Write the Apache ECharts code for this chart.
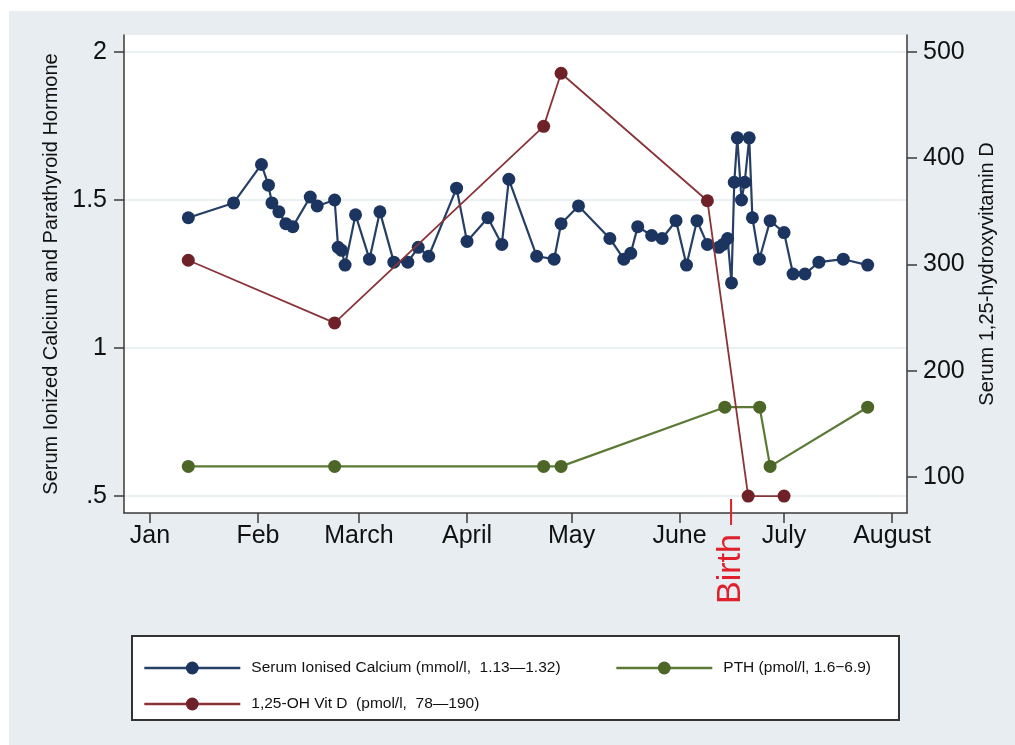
<!DOCTYPE html>
<html><head><meta charset="utf-8">
<script src="https://cdn.jsdelivr.net/npm/echarts@6/dist/echarts.min.js"></script>
<style>
html,body{margin:0;padding:0;background:#fff;}
#bg{position:absolute;left:9px;top:11px;width:1006px;height:734px;background:#e7edf0;}
#c{position:absolute;left:0;top:0;width:1015px;height:745px;}
</style>
</head><body><div id="bg"></div><div id="c"></div>
<script>
const calciumDates = ['2012-01-12','2012-01-25','2012-02-02','2012-02-04','2012-02-05','2012-02-07','2012-02-09','2012-02-11','2012-02-16','2012-02-18','2012-02-23','2012-02-24','2012-02-25','2012-02-26','2012-02-29','2012-03-04','2012-03-07','2012-03-11','2012-03-15','2012-03-18','2012-03-21','2012-03-29','2012-04-01','2012-04-07','2012-04-11','2012-04-13','2012-04-21','2012-04-26','2012-04-28','2012-05-03','2012-05-12','2012-05-16','2012-05-18','2012-05-20','2012-05-24','2012-05-27','2012-05-31','2012-06-03','2012-06-06','2012-06-09','2012-06-12 07:00','2012-06-13 12:00','2012-06-14 19:00','2012-06-15 22:00','2012-06-16 17:00','2012-06-17 14:00','2012-06-18 19:00','2012-06-19 17:00','2012-06-21 00:00','2012-06-21 22:00','2012-06-23 22:00','2012-06-27','2012-07-01','2012-07-03 14:00','2012-07-07','2012-07-11','2012-07-18','2012-07-25'];
const calciumValues = [1.44,1.49,1.62,1.55,1.49,1.46,1.42,1.41,1.51,1.48,1.50,1.34,1.33,1.28,1.45,1.30,1.46,1.29,1.29,1.34,1.31,1.54,1.36,1.44,1.35,1.57,1.31,1.30,1.42,1.48,1.37,1.30,1.32,1.41,1.38,1.37,1.43,1.28,1.43,1.35,1.34,1.35,1.37,1.22,1.56,1.71,1.50,1.56,1.71,1.44,1.30,1.43,1.39,1.25,1.25,1.29,1.30,1.28];
const pthDates = ['2012-01-12','2012-02-23','2012-04-23','2012-04-28','2012-06-14','2012-06-24','2012-06-27','2012-07-25'];
const pthValues = [0.6,0.6,0.6,0.6,0.8,0.8,0.6,0.8];
const vitDDates = ['2012-01-12','2012-02-23','2012-04-23','2012-04-28','2012-06-09','2012-06-20 17:00','2012-07-01'];
const vitDValues = [304,245,430,480,360,82,82];
const monthTicks = ['2012-01-01','2012-02-01','2012-03-01','2012-04-01','2012-05-01','2012-06-01','2012-07-01','2012-08-01'];
const monthLabels = ['Jan','Feb','March','April','May','June','July','August'];
const leftTicks = [0.5,1,1.5,2];
const leftTickLabels = ['.5','1','1.5','2'];
const rightTicks = [100,200,300,400,500];
const seriesNames = ['Serum Ionised Calcium (mmol/l,  1.13\u20141.32)','PTH (pmol/l, 1.6\u22126.9)','1,25-OH Vit D  (pmol/l,  78\u2014190)'];
const birthDate = '2012-06-15 19:00';
const birthLabel = 'Birth';
const leftTitle = 'Serum Ionized Calcium and Parathyroid Hormone';
const rightTitle = 'Serum 1,25-hydroxyvitamin D';

function ts(s){
  const parts = s.split(' ');
  const d = parts[0].split('-').map(Number);
  let h = 0, mi = 0;
  if (parts[1]) { const t = parts[1].split(':').map(Number); h = t[0]; mi = t[1]; }
  return new Date(d[0], d[1]-1, d[2], h, mi).getTime();
}
function nearestLabel(v, ticks, labels){
  let best=0, bd=Infinity;
  ticks.forEach((t,i)=>{const dd=Math.abs(t-v); if(dd<bd){bd=dd;best=i;}});
  return labels[best];
}
const FONT = "'Liberation Sans', Arial, Helvetica, sans-serif";
const tickTimes = monthTicks.map(ts);
const xMin = ts('2011-12-24 13:00');
const xMax = ts('2012-08-05 07:00');
const yLeftMin = 0.4426, yLeftMax = 2.0574;
const yRightMin = 66.1, yRightMax = 516;

const chart = echarts.init(document.getElementById('c'), null, {renderer:'canvas'});
const axisLine = {show:true, lineStyle:{color:'#3a3a3a', width:1.5}};
const legendText = {fontSize:15.5, color:'#111', fontFamily:FONT, padding:[0,0,0,6]};
const option = {
  animation:false,
  backgroundColor:'transparent',
  textStyle:{fontFamily:FONT},
  grid:{left:124, right:108, top:35, bottom:232, show:true, backgroundColor:'#ffffff', borderWidth:0},
  xAxis:{
    type:'value', min:xMin, max:xMax, scale:true,
    axisLine:axisLine,
    axisTick:{show:true, length:10, lineStyle:{color:'#3a3a3a', width:1.5}, customValues:tickTimes},
    axisLabel:{customValues:tickTimes, fontSize:25, color:'#111', margin:11, fontFamily:FONT,
      formatter:function(v){ return nearestLabel(v, tickTimes, monthLabels); }},
    splitLine:{show:false}
  },
  yAxis:[{
    type:'value', position:'left', min:yLeftMin, max:yLeftMax,
    name:leftTitle, nameLocation:'middle', nameRotate:90, nameGap:60,
    nameTextStyle:{fontSize:20, color:'#111', fontFamily:FONT},
    axisLine:axisLine,
    axisTick:{show:true, length:10, lineStyle:{color:'#3a3a3a', width:1.5}, customValues:leftTicks},
    axisLabel:{customValues:leftTicks, fontSize:25, color:'#111', margin:17, fontFamily:FONT,
      formatter:function(v){ return nearestLabel(v, leftTicks, leftTickLabels); }},
    splitLine:{show:true, lineStyle:{color:'#e3ebee', width:1.5}}
  },{
    type:'value', position:'right', min:yRightMin, max:yRightMax,
    name:rightTitle, nameLocation:'middle', nameRotate:90, nameGap:70,
    nameTextStyle:{fontSize:20, color:'#111', fontFamily:FONT},
    axisLine:axisLine,
    axisTick:{show:true, length:10, lineStyle:{color:'#3a3a3a', width:1.5}, customValues:rightTicks},
    axisLabel:{customValues:rightTicks, fontSize:25, color:'#111', margin:16, fontFamily:FONT},
    splitLine:{show:false}
  }],
  legend:[
    {data:[seriesNames[0]], left:138, top:655, itemWidth:96, itemHeight:16, selectedMode:false, lineStyle:{width:2.6}, textStyle:legendText},
    {data:[seriesNames[1]], left:610, top:655, itemWidth:96, itemHeight:16, selectedMode:false, lineStyle:{width:2.6}, textStyle:legendText},
    {data:[seriesNames[2]], left:138, top:691, itemWidth:96, itemHeight:16, selectedMode:false, lineStyle:{width:2.6}, textStyle:legendText}
  ],
  graphic:[
    {id:'legendBox', type:'rect', z:0, shape:{x:132, y:636, width:767, height:84}, style:{fill:'#ffffff', stroke:'#333', lineWidth:2}}
  ],
  series:[
    {name:seriesNames[0], type:'line', yAxisIndex:0, data:calciumDates.map((d,i)=>[ts(d), calciumValues[i]]),
      symbol:'circle', symbolSize:13, showAllSymbol:true,
      lineStyle:{color:'#263f66', width:2.2}, itemStyle:{color:'#1c3560'}, z:2},
    {name:seriesNames[1], type:'line', yAxisIndex:0, data:pthDates.map((d,i)=>[ts(d), pthValues[i]]),
      symbol:'circle', symbolSize:13, showAllSymbol:true,
      lineStyle:{color:'#5b7a36', width:2.2}, itemStyle:{color:'#4b6626'}, z:3},
    {name:seriesNames[2], type:'line', yAxisIndex:1, data:vitDDates.map((d,i)=>[ts(d), vitDValues[i]]),
      symbol:'circle', symbolSize:13, showAllSymbol:true,
      lineStyle:{color:'#8a3339', width:1.8}, itemStyle:{color:'#6e2228'}, z:4}
  ]
};
chart.setOption(option);
const bx = chart.convertToPixel({xAxisIndex:0}, ts(birthDate));
const by = chart.convertToPixel({yAxisIndex:0}, yLeftMin);
chart.setOption({graphic:[
  {id:'birthLine', type:'line', z:10, shape:{x1:bx, y1:by-14, x2:bx, y2:by+12}, style:{stroke:'#e0202a', lineWidth:2}},
  {id:'birthText', type:'text', z:10, x:bx, y:by+56, rotation:Math.PI/2, style:{text:birthLabel, fill:'#e0202a', fontSize:34, fontFamily:FONT, align:'center', verticalAlign:'middle'}}
]});
</script>
</body></html>
